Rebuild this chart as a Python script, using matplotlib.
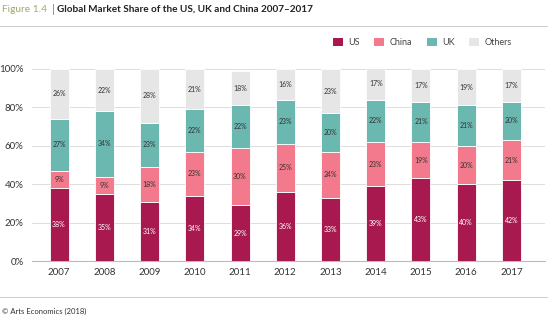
import matplotlib.pyplot as plt
import numpy as np
from matplotlib.patches import Patch
from matplotlib.lines import Line2D

years = ['2007', '2008', '2009', '2010', '2011', '2012', '2013', '2014', '2015', '2016', '2017']
us = [38, 35, 31, 34, 29, 36, 33, 39, 43, 40, 42]
china = [9, 9, 18, 23, 30, 25, 24, 23, 19, 20, 21]
uk = [27, 34, 23, 22, 22, 23, 20, 22, 21, 21, 20]
others = [26, 22, 28, 21, 18, 16, 23, 17, 17, 19, 17]

series_names = ['US', 'China', 'UK', 'Others']
colors = ['#a8194f', '#f27a8c', '#6bb8b1', '#e6e6e6']
text_colors = ['white', '#333333', '#333333', '#333333']

plt.rcParams['font.family'] = ['Lato', 'DejaVu Sans']

fig = plt.figure(figsize=(5.5, 3.22), dpi=100)
ax = fig.add_axes([0.058, 0.189, 0.932, 0.597])

x = np.arange(len(years))
bottom = np.zeros(len(years))
for vals, name, c, tc in zip([us, china, uk, others], series_names, colors, text_colors):
    vals = np.array(vals, dtype=float)
    bars = ax.bar(x, vals, 0.42, bottom=bottom, color=c, edgecolor='white', linewidth=0.6,
                  label=name, zorder=3)
    for xi, b, v in zip(x, bottom, vals):
        ax.text(xi, b + v / 2, f'{int(v)}%', ha='center', va='center', fontsize=5, color=tc, zorder=4)
    bottom += vals

ax.set_xlim(-0.6, 10.73)
ax.set_ylim(0, 100)
ax.set_yticks([0, 20, 40, 60, 80, 100])
ax.set_yticklabels(['0%', '20%', '40%', '60%', '80%', '100%'])
ax.set_xticks(x)
ax.set_xticklabels(years)
ax.tick_params(axis='both', length=0, labelsize=7, colors='#333333')
ax.tick_params(axis='y', pad=6)
ax.tick_params(axis='x', pad=5)
ax.grid(axis='y', color='#dddddd', linewidth=0.7, zorder=0)
for s in ['top', 'right', 'left']:
    ax.spines[s].set_visible(False)
ax.spines['bottom'].set_color('#bbbbbb')
ax.spines['bottom'].set_linewidth(0.8)

# title
fig.text(0.004, 0.972, 'Figure 1.4', fontsize=7.3, color='#a3a66b', va='center', ha='left')
fig.text(0.095, 0.972, '|', fontsize=8.5, color='#888888', va='center', ha='left')
fig.text(0.104, 0.972, 'Global Market Share of the US, UK and China 2007\u20132017', fontsize=7.2,
         fontweight='bold', color='#222222', va='center', ha='left')
fig.add_artist(Line2D([0.0, 0.995], [0.918, 0.918], color='#cccccc', linewidth=0.7))

# legend
handles = [Patch(facecolor=c, edgecolor='none') for c in colors]
fig.legend(handles, series_names, loc='center right', bbox_to_anchor=(0.945, 0.868), ncol=4,
           frameon=False, fontsize=6.5, handlelength=1.1, handleheight=1.1, handletextpad=0.6,
           columnspacing=1.6, labelcolor='#444444')

# footer
fig.add_artist(Line2D([0.0, 0.995], [0.078, 0.078], color='#cccccc', linewidth=0.7))
fig.text(0.004, 0.034, '\u00a9 Arts Economics (2018)', fontsize=5.5, color='#333333', va='center', ha='left')

fig.savefig('out.png', dpi=100)
